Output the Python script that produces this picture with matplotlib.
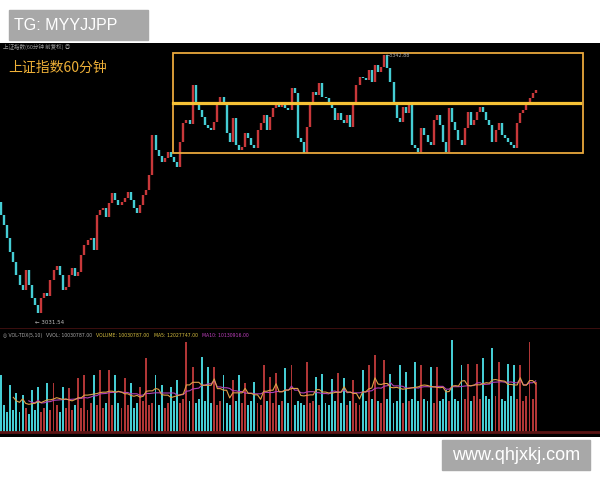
import matplotlib
matplotlib.use("Agg")
import matplotlib.pyplot as plt
from matplotlib.patches import Rectangle
import numpy as np
import pandas as pd

plt.rcParams['font.family'] = ['Noto Sans CJK SC', 'DejaVu Sans']

# 60-minute closes of the Shanghai Composite
first_open = 3165.5
closes = [
    3149.8, 3137.7, 3122.0, 3105.1, 3093.1, 3077.4, 3065.3, 3059.3, 3083.4, 3065.3,
    3049.6, 3041.2, 3031.54, 3049.6, 3055.6, 3052.0, 3071.3, 3083.4, 3088.2, 3077.4,
    3059.3, 3062.9, 3077.4, 3085.8, 3076.2, 3081.0, 3101.5, 3113.6, 3119.6, 3122.0,
    3107.5, 3149.8, 3155.8, 3158.2, 3147.4, 3164.3, 3176.3, 3167.9, 3161.9, 3165.5,
    3170.3, 3177.6, 3167.9, 3158.2, 3152.2, 3161.9, 3173.9, 3180.0, 3198.1, 3246.4,
    3228.2, 3221.0, 3213.8, 3218.6, 3225.8, 3219.8, 3213.8, 3207.7, 3237.9,
    3260.8, 3264.5, 3259.6, 3306.7, 3286.2, 3276.5, 3268.1, 3258.4, 3254.8, 3252.4,
    3262.0, 3282.6, 3292.2, 3285.0, 3248.8, 3237.9, 3266.9, 3234.3, 3228.2, 3231.9,
    3248.8, 3242.7, 3234.3, 3230.7, 3252.4, 3260.8, 3270.5, 3252.4, 3268.1, 3278.9,
    3285.0, 3280.2, 3286.2, 3278.9, 3276.5, 3303.1, 3297.0, 3242.7, 3237.9, 3224.6,
    3256.0, 3286.2, 3298.3, 3294.6, 3309.1, 3292.2, 3291.0, 3286.2, 3278.9, 3264.5,
    3272.9, 3264.5, 3260.8, 3270.5, 3256.0, 3282.6, 3306.7, 3316.4, 3315.2, 3312.7,
    3324.8, 3310.3, 3330.8, 3322.4, 3328.4, 3342.88, 3327.2, 3310.3, 3286.2, 3266.9,
    3262.0, 3280.2, 3272.9, 3285.0, 3234.3, 3230.7, 3225.8, 3254.8, 3246.4, 3237.9,
    3234.3, 3264.5, 3270.5, 3258.4, 3237.9, 3225.8, 3278.9, 3262.0, 3252.4, 3240.3,
    3234.3, 3254.8, 3274.1, 3258.4, 3264.5, 3274.1, 3280.2, 3274.1, 3264.5, 3258.4,
    3237.9, 3252.4, 3260.8, 3246.4, 3242.7, 3237.9, 3234.3, 3230.7, 3260.8, 3272.9,
    3276.5, 3285.0, 3291.0, 3297.0, 3300.7,
]

# volume in millions of shares per bar
volume = [
    25.7, 12, 9, 21.2, 10, 17.6, 9, 16.7, 11, 8,
    18.9, 10, 20.3, 9, 11, 22.1, 10, 22.1, 12, 9,
    20.3, 11, 19.8, 10, 12, 24.3, 11, 25.7, 10, 13,
    25.7, 12, 27.9, 11, 13, 27.9, 12, 25.7, 13, 11,
    24.3, 12, 22.1, 11, 13, 20.3, 14, 33.3, 12, 13,
    25.7, 12, 21.2, 11, 13, 20.3, 14, 23.4, 13, 15,
    40.5, 14, 29.3, 13, 15, 33.8, 14, 29.3, 13, 29.3,
    12, 14, 25.7, 13, 12, 23.4, 14, 25.7, 13, 22.1,
    12, 14, 22.5, 13, 12, 30.2, 14, 24.8, 13, 26.6,
    12, 14, 28.8, 13, 30.2, 12, 14, 13, 12, 31.5,
    13, 14, 24.8, 12, 26.1, 13, 12, 23.9, 14, 26.6,
    13, 24.3, 12, 14, 23.4, 13, 12, 27.9, 14, 30.2,
    15, 34.7, 14, 13, 32.4, 15, 26.1, 13, 14, 30.2,
    13, 27.0, 14, 15, 31.5, 14, 30.2, 15, 14, 29.3,
    13, 29.3, 14, 15, 18.9, 14, 41.4, 15, 14, 30.2,
    15, 30.6, 14, 16, 30.6, 15, 33.3, 16, 15, 37.8,
    16, 31.5, 15, 14, 30.6, 16, 30.2, 15, 30.2, 14,
    16, 40.5, 15, 22.5,
]

# consolidation box drawn on the chart (price levels, candle positions)
box_top = 3345.3
box_bottom = 3224.6
box_mid = 3285.0
box_left = 55.7
box_right = 188.3

up_color = '#c8383a'
down_color = '#45cdd4'

closes = np.array(closes)
opens = np.concatenate([[first_open], closes[:-1]])
idx = np.arange(len(closes))
up = closes >= opens
colors = np.where(up, up_color, down_color)

fig = plt.figure(figsize=(6, 4.8), dpi=100, facecolor='white')

# ---- price panel ----
ax = fig.add_axes([0, (480 - 328) / 480, 1, 285 / 480])
ax.set_facecolor('black')
ax.set_xlim(-0.32, 193.8)
ax.set_ylim(3013.4, 3357.4)
for s in ax.spines.values():
    s.set_visible(False)
ax.set_xticks([])
ax.set_yticks([])

lo = np.minimum(opens, closes)
hi = np.maximum(opens, closes)
hi = np.where(hi - lo < 1.5, lo + 1.5, hi)
ax.vlines(idx, lo, hi, colors=colors, linewidth=1.7)

ax.add_patch(Rectangle((box_left, box_bottom), box_right - box_left, box_top - box_bottom,
                       fill=False, edgecolor='#e9a83c', linewidth=1.3, zorder=3))
ax.plot([box_left, box_right - 0.9], [box_mid, box_mid], color='#f6c236', linewidth=2.3, zorder=3)

i_lo = int(np.argmin(closes))
i_hi = int(np.argmax(closes))
ax.annotate('\u2190 %.2f' % closes[i_lo], (i_lo, closes[i_lo]), xytext=(-2, -7),
            textcoords='offset points', color='#bbbbbb', fontsize=4, va='center',
            family=['DejaVu Sans'])
ax.annotate('\u2190%.2f' % closes[i_hi], (i_hi, closes[i_hi]), xytext=(1, 0),
            textcoords='offset points', color='#aaaaaa', fontsize=3.5, va='center',
            family=['DejaVu Sans'])

ax.text(3 / 600, 0.986, '上证指数(60分钟 前复权) ◎', transform=ax.transAxes,
        color='#999999', fontsize=4, va='center', ha='left')
ax.text(8 / 600, 0.914, '上证指数60分钟', transform=ax.transAxes,
        color='#eeb038', fontsize=10, va='center', ha='left')

# ---- volume panel ----
vx = fig.add_axes([0, (480 - 437) / 480, 1, 109 / 480])
vx.set_facecolor('black')
vx.set_xlim(-0.32, 193.8)
vx.set_ylim(-2.25, 46.8)
for s in vx.spines.values():
    s.set_visible(False)
vx.set_xticks([])
vx.set_yticks([])

vol_colors = np.where(up, '#b03636', down_color)
vx.bar(idx, volume, width=0.62, color=vol_colors, linewidth=0)
vol = pd.Series(volume)
vx.plot(idx, vol.rolling(10).mean(), color='#b040b8', linewidth=0.8)
vx.plot(idx, vol.rolling(5).mean(), color='#e0a048', linewidth=0.8)
vx.axhline(0, color='#5a1414', linewidth=2)
vx.axhline(46.8, color='#3a0e0e', linewidth=1.5)

# indicator header, laid out left to right so the pieces never collide
labels = [
    ('◎ VOL-TDX(5,10)', '#aaaaaa'),
    ('VVOL: 10030787.00', '#aaaaaa'),
    ('VOLUME: 10030787.00', '#d8c040'),
    ('MA5: 12027747.00', '#d8c040'),
    ('MA10: 10130916.00', '#c040c0'),
]
renderer = fig.canvas.get_renderer()
xp = 3
for txt, col in labels:
    t = vx.text(xp / 600, 0.927, txt, transform=vx.transAxes, color=col,
                fontsize=3.3, va='center', ha='left', family=['DejaVu Sans'])
    xp += t.get_window_extent(renderer).width + 4

# ---- watermarks ----
fig.patches.append(Rectangle((9 / 600, 1 - 40 / 480), 139 / 600, 30 / 480,
                             transform=fig.transFigure, color='#a8a8a8', zorder=5))
fig.text(14 / 600, 1 - 25 / 480, 'TG: MYYJJPP', color='white', fontsize=11.5,
         va='center', ha='left', family='Liberation Sans', zorder=6)
fig.patches.append(Rectangle((442 / 600, 1 - 470 / 480), 148 / 600, 30 / 480,
                             transform=fig.transFigure, color='#a8a8a8', zorder=5))
fig.text(516 / 600, 1 - 455 / 480, 'www.qhjxkj.com', color='white', fontsize=13,
         va='center', ha='center', family='Liberation Sans', zorder=6)

fig.savefig('out.png', dpi=100, facecolor='white')
